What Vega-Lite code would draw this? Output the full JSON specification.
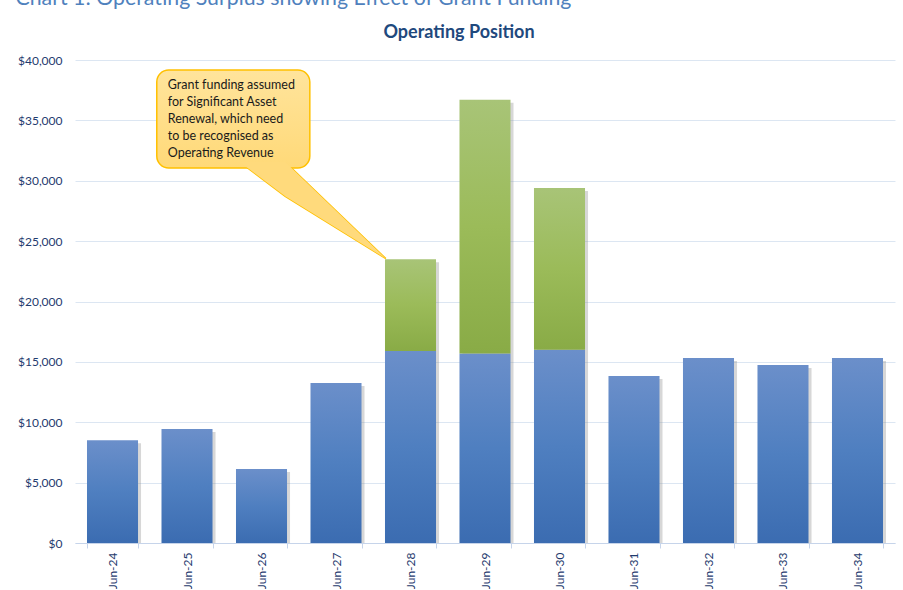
{
  "$schema": "https://vega.github.io/schema/vega-lite/v6.json",
  "autosize": {"type": "none"},
  "padding": {"left": 75, "top": 60, "right": 8, "bottom": 47},
  "width": 820,
  "height": 483,
  "background": "white",
  "config": {
    "view": {"stroke": null},
    "font": "Lato"
  },
  "title": {
    "text": "Operating Position",
    "fontSize": 18,
    "fontWeight": "bold",
    "color": "#1f497d",
    "font": "Lato",
    "anchor": "middle",
    "offset": 12,
    "dx": -26,
    "dy": 67
  },
  "datasets": {
    "position": [
      {"year": "Jun-24", "operating": 8500, "total": 8500},
      {"year": "Jun-25", "operating": 9450, "total": 9450},
      {"year": "Jun-26", "operating": 6130, "total": 6130},
      {"year": "Jun-27", "operating": 13250, "total": 13250},
      {"year": "Jun-28", "operating": 15900, "total": 23500},
      {"year": "Jun-29", "operating": 15700, "total": 36700},
      {"year": "Jun-30", "operating": 16000, "total": 29400},
      {"year": "Jun-31", "operating": 13830, "total": 13830},
      {"year": "Jun-32", "operating": 15320, "total": 15320},
      {"year": "Jun-33", "operating": 14740, "total": 14740},
      {"year": "Jun-34", "operating": 15320, "total": 15320}
    ],
    "callout_box": [
      {"x": 1.097, "x2": 3.15, "y": 39170, "y2": 31050}
    ],
    "callout_pointer": [
      {"x": 2.21, "top": 31550, "bottom": 31550},
      {"x": 2.82, "top": 31550, "bottom": 28712},
      {"x": 4.17, "top": 23550, "bottom": 23550}
    ],
    "callout_text": [
      {"x": 1.245, "y": 38400, "label": ["Grant funding assumed", "for Significant Asset", "Renewal, which need", "to be recognised as", "Operating Revenue"]}
    ]
  },
  "layer": [
    {
      "data": {"name": "position"},
      "encoding": {
        "x": {
          "field": "year",
          "type": "nominal",
          "sort": null,
          "scale": {"paddingInner": 0.315, "paddingOuter": 0.161},
          "axis": {
            "title": null,
            "labelAngle": 270,
            "labelColor": "#1f3b6e",
            "labelFontSize": 12,
            "labelFont": "Lato",
            "labelPadding": 4,
            "tickBand": "extent",
            "tickSize": 5,
            "tickColor": "#c6d4ea",
            "domainColor": "#c6d4ea",
            "grid": false
          }
        }
      },
      "layer": [
        {
          "mark": {"type": "bar", "fill": "#8c8c8c", "opacity": 0.35, "xOffset": 3, "yOffset": 3, "clip": true},
          "encoding": {
            "y": {
              "field": "total",
              "type": "quantitative",
              "scale": {"domain": [0, 40000], "nice": false},
              "axis": {
                "values": [0, 5000, 10000, 15000, 20000, 25000, 30000, 35000, 40000],
                "format": "$,.0f",
                "labelColor": "#1f3b6e",
                "labelFontSize": 12,
                "labelFont": "Lato",
                "labelPadding": 13,
                "ticks": false,
                "domain": false,
                "gridColor": "#dce6f2",
                "gridWidth": 1,
                "title": "Chart 1: Operating Surplus showing Effect of Grant Funding",
                "titleAngle": 0,
                "titleAlign": "left",
                "titleBaseline": "alphabetic",
                "titleX": -60,
                "titleY": -56,
                "titleFontSize": 21.3,
                "titleFontWeight": "normal",
                "titleColor": "#4f81bd",
                "titleFont": "Lato"
              }
            }
          }
        },
        {
          "mark": {
            "type": "bar",
            "fill": {
              "gradient": "linear", "x1": 0, "y1": 0, "x2": 0, "y2": 1,
              "stops": [
                {"offset": 0, "color": "#6b8fca"},
                {"offset": 0.5, "color": "#4f7fc0"},
                {"offset": 1, "color": "#3b6cb1"}
              ]
            }
          },
          "encoding": {
            "y": {"field": "operating", "type": "quantitative"}
          }
        },
        {
          "transform": [{"filter": "datum.total > datum.operating"}],
          "mark": {
            "type": "bar",
            "fill": {
              "gradient": "linear", "x1": 0, "y1": 0, "x2": 0, "y2": 1,
              "stops": [
                {"offset": 0, "color": "#a8c477"},
                {"offset": 0.5, "color": "#9bbb59"},
                {"offset": 1, "color": "#89ab46"}
              ]
            }
          },
          "encoding": {
            "y": {"field": "operating", "type": "quantitative"},
            "y2": {"field": "total"}
          }
        }
      ]
    },
    {
      "layer": [
        {
          "data": {"name": "callout_pointer"},
          "mark": {"type": "area", "fill": "#ffdf8a", "stroke": "#ffc000", "strokeWidth": 1.5, "orient": "vertical"},
          "encoding": {
            "x": {"field": "x", "type": "quantitative", "scale": {"domain": [0, 11], "nice": false, "zero": false}, "axis": null},
            "y": {"field": "top", "type": "quantitative"},
            "y2": {"field": "bottom"}
          }
        },
        {
          "data": {"name": "callout_box"},
          "mark": {
            "type": "rect",
            "cornerRadius": 12,
            "stroke": "#ffc000",
            "strokeWidth": 1.5,
            "fill": {
              "gradient": "linear", "x1": 0, "y1": 0, "x2": 0, "y2": 1,
              "stops": [
                {"offset": 0, "color": "#ffe49c"},
                {"offset": 1, "color": "#ffd978"}
              ]
            }
          },
          "encoding": {
            "x": {"field": "x", "type": "quantitative"},
            "x2": {"field": "x2"},
            "y": {"field": "y", "type": "quantitative"},
            "y2": {"field": "y2"}
          }
        },
        {
          "data": {"name": "callout_pointer"},
          "mark": {"type": "area", "fill": "#ffda7c", "orient": "vertical"},
          "encoding": {
            "x": {"field": "x", "type": "quantitative"},
            "y": {"field": "top", "type": "quantitative"},
            "y2": {"field": "bottom"}
          }
        },
        {
          "data": {"name": "callout_text"},
          "mark": {"type": "text", "align": "left", "baseline": "top", "fontSize": 12.5, "lineHeight": 16.8, "color": "#1a1a1a", "font": "Lato"},
          "encoding": {
            "x": {"field": "x", "type": "quantitative"},
            "y": {"field": "y", "type": "quantitative"},
            "text": {"field": "label"}
          }
        }
      ]
    }
  ],
  "resolve": {"scale": {"x": "independent"}, "axis": {"x": "independent"}}
}
